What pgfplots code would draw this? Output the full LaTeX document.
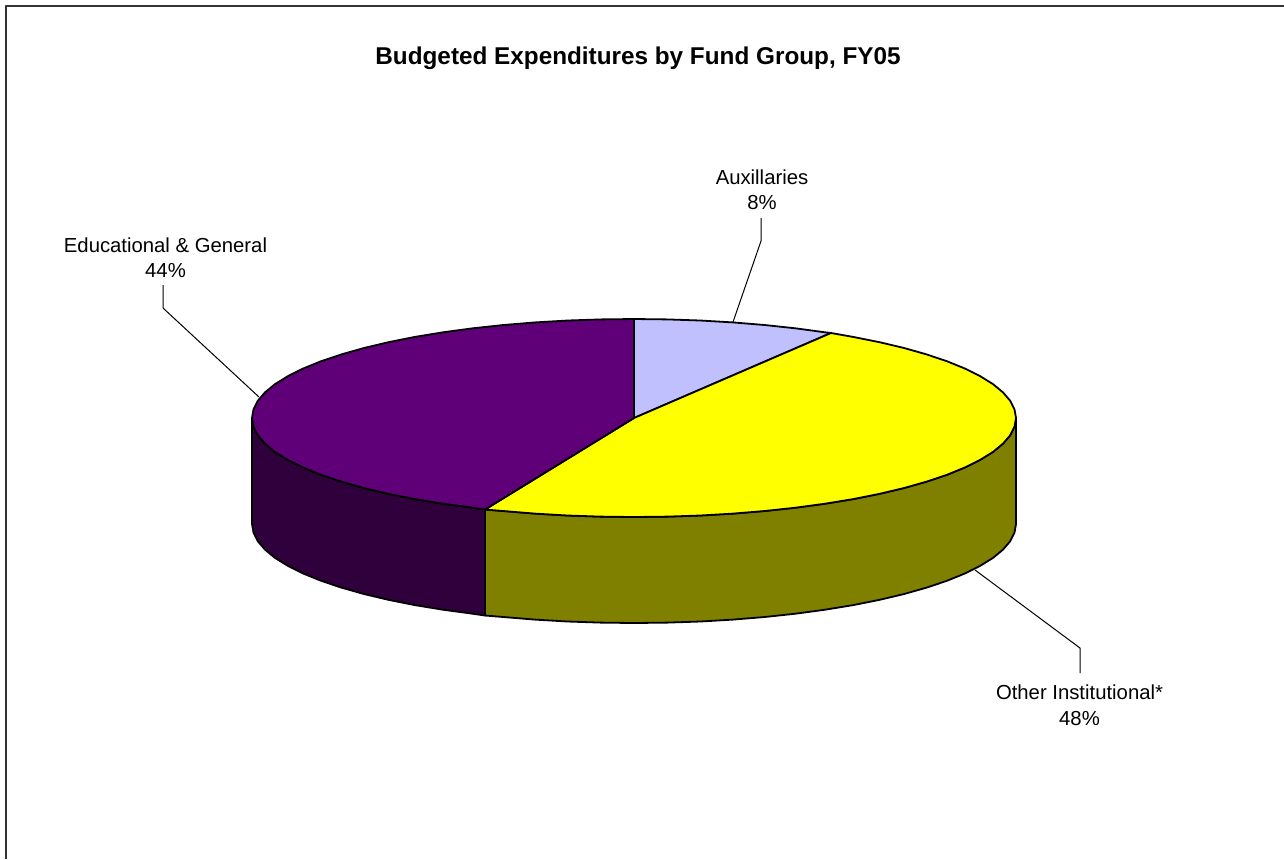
\documentclass[border=0pt]{standalone}
\usepackage{pgfplots}
\pgfplotsset{compat=1.18}
\usepackage{fontspec}
\setmainfont{Liberation Sans}
\definecolor{auxc}{RGB}{192,192,255}
\definecolor{ylw}{RGB}{255,255,0}
\definecolor{olv}{RGB}{128,128,0}
\definecolor{pur}{RGB}{96,0,120}
\definecolor{dpur}{RGB}{48,0,60}
\begin{document}
\begin{tikzpicture}
\useasboundingbox (0,0) rectangle (642pt,429.5pt);
\begin{axis}[
  at={(0,0)}, anchor=south west,
  scale only axis, width=642pt, height=429.5pt,
  xmin=0, xmax=1284, ymin=0, ymax=859, y dir=reverse,
  axis lines=none, clip=false, ticks=none,
  every axis plot/.append style={black, line width=0.9pt, line join=round, mark=none},
]
% frame
\addplot[black!80, line width=1pt] coordinates {(6,859)(6,6)(1284,6)};
% sides
\addplot[fill=dpur] coordinates {(252,418)(253.5,426.6)(257.8,435.2)(265,443.6)(275,451.9)(287.8,459.8)(303.2,467.5)(321.1,474.8)(341.4,481.6)(363.9,488)(388.4,493.8)(414.9,499.1)(443,503.7)(472.6,507.7)(485,509.5)
 (485,615.5)(472.6,613.7)(443,609.7)(414.9,605.1)(388.4,599.8)(363.9,594)(341.4,587.6)(321.1,580.8)(303.2,573.5)(287.8,565.8)(275,557.9)(265,549.6)(257.8,541.2)(253.5,532.6)(252,524)} -- cycle;
\addplot[fill=olv] coordinates {(1016,418)(1014.5,426.6)(1010.2,435.2)(1003,443.6)(993,451.9)(980.2,459.8)(964.8,467.5)(946.9,474.8)(926.6,481.6)(904.1,488)(879.6,493.8)(853.1,499.1)(825,503.7)(795.4,507.7)(764.6,511)(732.9,513.6)(700.3,515.5)(667.3,516.6)(634,517)(600.7,516.6)(567.7,515.5)(535.1,513.6)(503.4,511)(485,509.5)
 (485,615.5)(503.4,617)(535.1,619.6)(567.7,621.5)(600.7,622.6)(634,623)(667.3,622.6)(700.3,621.5)(732.9,619.6)(764.6,617)(795.4,613.7)(825,609.7)(853.1,605.1)(879.6,599.8)(904.1,594)(926.6,587.6)(946.9,580.8)(964.8,573.5)(980.2,565.8)(993,557.9)(1003,549.6)(1010.2,541.2)(1014.5,532.6)(1016,524)} -- cycle;
% top slices
\addplot[fill=auxc] coordinates {(634,418)(634,319)(667.3,319.4)(700.3,320.5)(732.9,322.4)(764.6,325)(795.4,328.3)(825,332.3)(831,333)} -- cycle;
\addplot[fill=ylw] coordinates {(634,418)(831,333)(853.1,336.9)(879.6,342.2)(904.1,348)(926.6,354.4)(946.9,361.2)(964.8,368.5)(980.2,376.2)(993,384.1)(1003,392.4)(1010.2,400.8)(1014.5,409.4)(1016,418)(1014.5,426.6)(1010.2,435.2)(1003,443.6)(993,451.9)(980.2,459.8)(964.8,467.5)(946.9,474.8)(926.6,481.6)(904.1,488)(879.6,493.8)(853.1,499.1)(825,503.7)(795.4,507.7)(764.6,511)(732.9,513.6)(700.3,515.5)(667.3,516.6)(634,517)(600.7,516.6)(567.7,515.5)(535.1,513.6)(503.4,511)(485,509.5)} -- cycle;
\addplot[fill=pur] coordinates {(634,418)(485,509.5)(472.6,507.7)(443,503.7)(414.9,499.1)(388.4,493.8)(363.9,488)(341.4,481.6)(321.1,474.8)(303.2,467.5)(287.8,459.8)(275,451.9)(265,443.6)(257.8,435.2)(253.5,426.6)(252,418)(253.5,409.4)(257.8,400.8)(265,392.4)(275,384.1)(287.8,376.2)(303.2,368.5)(321.1,361.2)(341.4,354.4)(363.9,348)(388.4,342.2)(414.9,336.9)(443,332.3)(472.6,328.3)(503.4,325)(535.1,322.4)(567.7,320.5)(600.7,319.4)(634,319)} -- cycle;
% leaders
\addplot[black, line width=0.5pt] coordinates {(761,218)(761,241)(733,322)};
\addplot[black, line width=0.5pt] coordinates {(163,285)(163,308)(259,397)};
\addplot[black, line width=0.5pt] coordinates {(975,570)(1080,648)(1080,673)};
\node[font=\bfseries\fontsize{12.15}{14}\selectfont, anchor=center] at (axis cs:638,58.5) {Budgeted Expenditures by Fund Group, FY05};
\node[font=\fontsize{10.15}{12.75}\selectfont, align=center, anchor=center] at (axis cs:762,189.5) {Auxillaries\\8\%};
\node[font=\fontsize{10.15}{12.75}\selectfont, align=center, anchor=center] at (axis cs:165.5,257.5) {Educational \& General\\44\%};
\node[font=\fontsize{10.15}{12.75}\selectfont, align=center, anchor=center] at (axis cs:1079.5,705) {Other Institutional*\\48\%};
\end{axis}
\end{tikzpicture}
\end{document}
